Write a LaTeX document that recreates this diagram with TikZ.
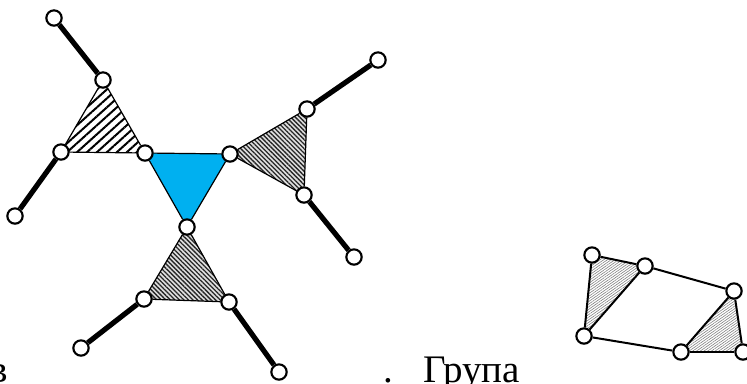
\documentclass[tikz,border=0pt]{standalone}
\usepackage{fontspec}
\setmainfont{Liberation Serif}
\usetikzlibrary{patterns.meta,backgrounds}
\definecolor{triblue}{HTML}{00B0F0}
\tikzset{
  vtx/.style={circle,draw=black,line width=1.6pt,fill=white,minimum size=11.5pt,inner sep=0pt},
  thickedge/.style={line width=3.9pt,black},
  thinedge/.style={line width=0.9pt,black},
  smalledge/.style={line width=1.5pt,black},
  sparsehatch/.style={pattern={Lines[angle=42,distance=5pt,line width=1.5pt]},pattern color=black},
  densehatch/.style={pattern={Lines[angle=-45,distance=2.4pt,line width=1pt]},pattern color=black!85},
  finehatch/.style={pattern={Lines[angle=35,distance=1.6pt,line width=0.45pt]},pattern color=gray},
  txt/.style={inner sep=0pt,font=\fontsize{29.25}{35}\selectfont}
}
\begin{document}
\begin{tikzpicture}[x=0.75pt,y=-0.75pt]
\useasboundingbox (0,0) rectangle (747,383);
% main figure vertices
\node[vtx] (A1) at (54,18) {};
\node[vtx] (A2) at (103,80) {};
\node[vtx] (A3) at (61,152) {};
\node[vtx] (A4) at (15,216) {};
\node[vtx] (B1) at (145,153) {};
\node[vtx] (B2) at (230,154) {};
\node[vtx] (B3) at (187,227) {};
\node[vtx] (R1) at (307,109) {};
\node[vtx] (R2) at (304,195) {};
\node[vtx] (R3) at (378,60) {};
\node[vtx] (R4) at (354,257) {};
\node[vtx] (D1) at (144,299) {};
\node[vtx] (D2) at (229,302) {};
\node[vtx] (D3) at (81,348) {};
\node[vtx] (D4) at (279,372) {};
% small figure vertices
\node[vtx] (S1) at (592,255) {};
\node[vtx] (S2) at (645,266) {};
\node[vtx] (S3) at (734,291) {};
\node[vtx] (S4) at (584,336) {};
\node[vtx] (S5) at (681,352) {};
\node[vtx] (S6) at (743,352) {};
\begin{scope}[on background layer]
  % fills
  \path[sparsehatch] (A2.center) -- (A3.center) -- (B1.center) -- cycle;
  \fill[triblue] (B1.center) -- (B2.center) -- (B3.center) -- cycle;
  \fill[gray!25] (B2.center) -- (R1.center) -- (R2.center) -- cycle;
  \path[densehatch] (B2.center) -- (R1.center) -- (R2.center) -- cycle;
  \fill[gray!25] (B3.center) -- (D1.center) -- (D2.center) -- cycle;
  \path[densehatch] (B3.center) -- (D1.center) -- (D2.center) -- cycle;
  \path[finehatch] (S1.center) -- (S2.center) -- (S4.center) -- cycle;
  \path[finehatch] (S5.center) -- (S3.center) -- (S6.center) -- cycle;
  % thick arms
  \draw[thickedge] (A1) -- (A2);
  \draw[thickedge] (A3) -- (A4);
  \draw[thickedge] (R1) -- (R3);
  \draw[thickedge] (R2) -- (R4);
  \draw[thickedge] (D1) -- (D3);
  \draw[thickedge] (D2) -- (D4);
  % triangle edges
  \draw[thinedge] (A2) -- (A3);
  \draw[thinedge] (A3) -- (B1);
  \draw[thinedge] (B1) -- (A2);
  \draw[thinedge] (B1) -- (B2);
  \draw[thinedge] (B2) -- (B3);
  \draw[thinedge] (B3) -- (B1);
  \draw[thinedge] (B2) -- (R1);
  \draw[thinedge] (R1) -- (R2);
  \draw[thinedge] (R2) -- (B2);
  \draw[thinedge] (B3) -- (D1);
  \draw[thinedge] (D1) -- (D2);
  \draw[thinedge] (D2) -- (B3);
  % small figure edges
  \draw[smalledge] (S1) -- (S2);
  \draw[smalledge] (S1) -- (S4);
  \draw[smalledge] (S2) -- (S4);
  \draw[smalledge] (S2) -- (S3);
  \draw[smalledge] (S4) -- (S5);
  \draw[smalledge] (S5) -- (S3);
  \draw[smalledge] (S3) -- (S6);
  \draw[smalledge] (S5) -- (S6);
\end{scope}
% text fragments (cut by the frame as in the reference)
\node[txt,anchor=base east] (tv) at (8,382) {в};
\node[txt,anchor=base] (tdot) at (388,382) {.};
\node[txt,anchor=base west] (tg) at (423,382) {Група};
\end{tikzpicture}
\end{document}
